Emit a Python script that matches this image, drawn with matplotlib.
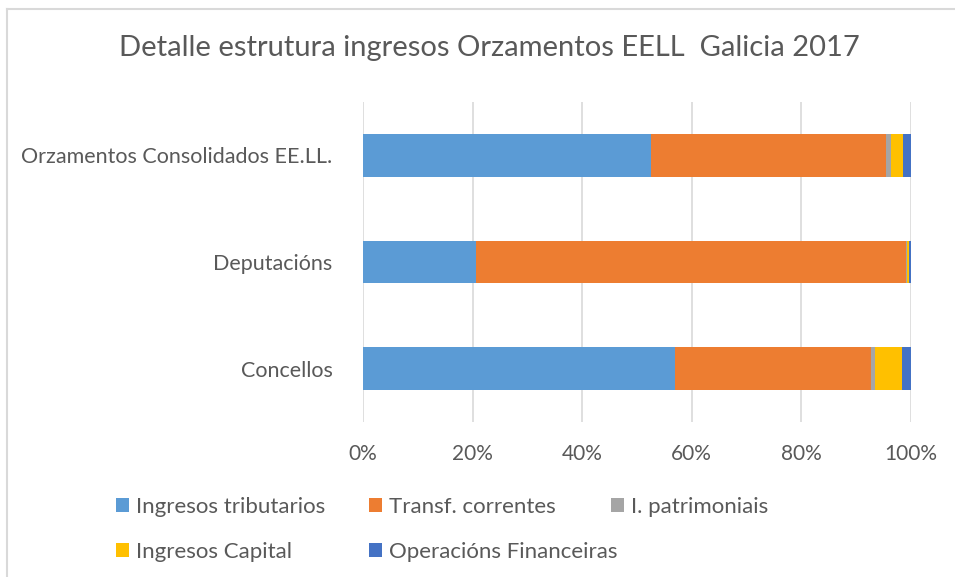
import matplotlib.pyplot as plt
import numpy as np
from matplotlib.lines import Line2D

plt.rcParams['font.family'] = ['Lato', 'DejaVu Sans']

# Categories from bottom to top, as in the chart
categories = ['Concellos', 'Deputacións', 'Orzamentos Consolidados EE.LL.']
series_names = ['Ingresos tributarios', 'Transf. correntes', 'I. patrimoniais',
                'Ingresos Capital', 'Operacións Financeiras']
# Share (%) of each series for Concellos, Deputacións, Consolidados
ingresos_tributarios = [57.0, 20.6, 52.6]
transf_correntes = [35.7, 78.4, 42.9]
i_patrimoniais = [0.8, 0.3, 0.9]
ingresos_capital = [4.9, 0.4, 2.1]
operacions_financeiras = [1.6, 0.3, 1.5]
colors = ['#5B9BD5', '#ED7D31', '#A5A5A5', '#FFC000', '#4472C4']

values = np.array([ingresos_tributarios, transf_correntes, i_patrimoniais,
                   ingresos_capital, operacions_financeiras])
values = values / values.sum(axis=0) * 100

text_color = '#595959'
fig = plt.figure(figsize=(9.55, 5.77), dpi=100)
W, H = 955, 577
ax = fig.add_axes([363 / W, 1 - 422 / H, 548 / W, 320 / H])

y = np.arange(len(categories))
left = np.zeros(len(categories))
handles = []
for name, vals, col in zip(series_names, values, colors):
    b = ax.barh(y, vals, left=left, height=0.4, color=col, label=name, zorder=3)
    handles.append(b)
    left += vals

ax.set_xlim(0, 100)
ax.set_ylim(-0.5, 2.5)
ax.set_xticks(np.arange(0, 101, 20))
ax.set_xticklabels([f'{t}%' for t in range(0, 101, 20)])
ax.set_yticks(y)
ax.set_yticklabels(categories)
ax.grid(axis='x', color='#D9D9D9', linewidth=1.2, zorder=0)
for s in ax.spines.values():
    s.set_visible(False)
ax.tick_params(length=0, labelsize=15, colors=text_color)
ax.tick_params(axis='y', labelsize=15.5, pad=22)
ax.tick_params(axis='x', pad=16)

fig.text(489 / W, 1 - 48 / H, 'Detalle estrutura ingresos Orzamentos EELL  Galicia 2017',
         ha='center', va='center', fontsize=21, color=text_color)

# Legend: three columns, placed like the original (rows A B C / D E)
legend_cols = [[0, 3], [1, 4], [2]]
col_x = [100, 353, 595]
for idx, x0 in zip(legend_cols, col_x):
    leg = fig.legend([handles[i] for i in idx], [series_names[i] for i in idx],
                     loc='upper left', bbox_to_anchor=(x0 / W, 1 - 481 / H),
                     frameon=False, fontsize=16, handlelength=0.6, handleheight=0.6,
                     handletextpad=0.3, labelspacing=1.15, borderpad=0.2)
    for t in leg.get_texts():
        t.set_color(text_color)

# Chart area border (cropped at right and bottom)
fig.add_artist(Line2D([7 / W, 1], [1 - 9 / H, 1 - 9 / H], color='#D9D9D9', lw=1.5))
fig.add_artist(Line2D([7 / W, 7 / W], [0, 1 - 9 / H], color='#D9D9D9', lw=1.5))

fig.savefig('out.png', dpi=100)
